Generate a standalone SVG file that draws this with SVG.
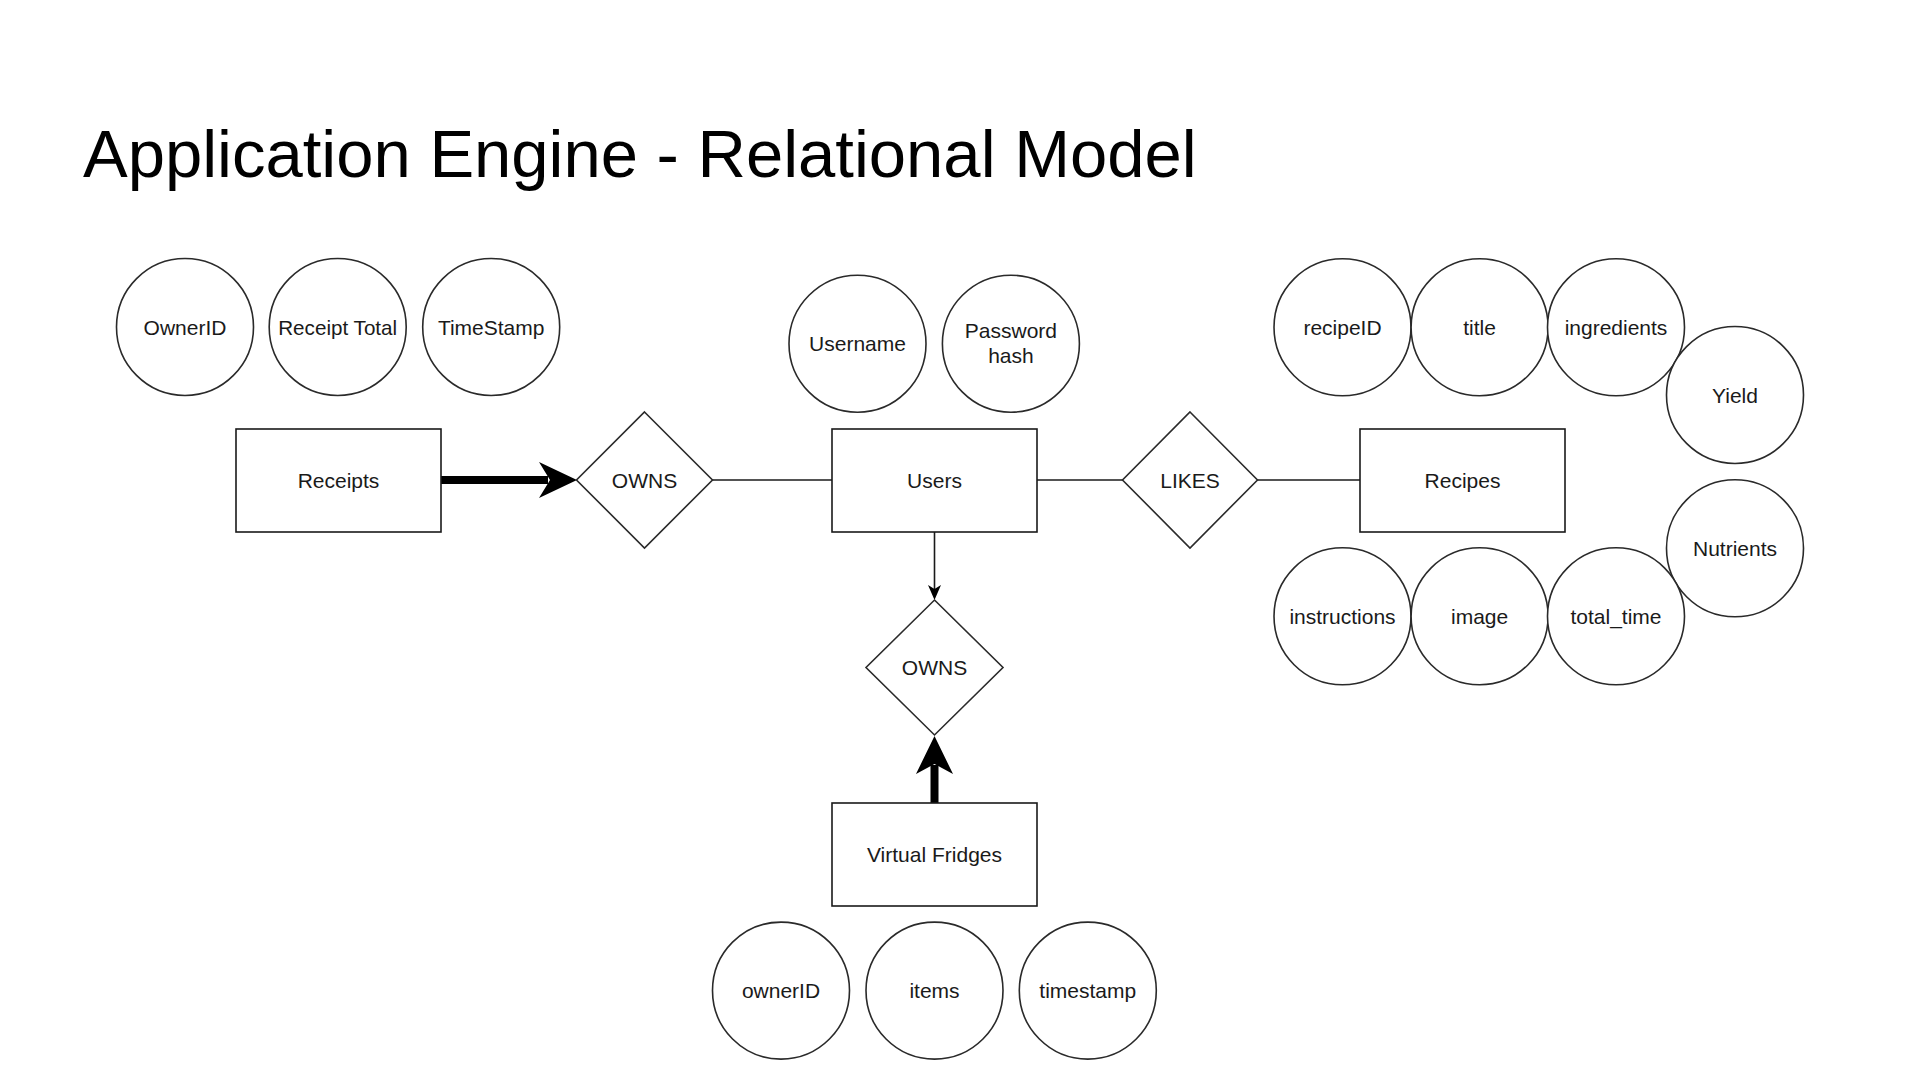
<svg xmlns="http://www.w3.org/2000/svg" width="1920" height="1080" viewBox="0 0 1920 1080">
<style>
.bg{fill:#ffffff}
.title{font-family:"Liberation Sans",Arial,sans-serif;font-size:67px;fill:#000}
.ent{fill:#fff;stroke:#1a1a1a;stroke-width:1.6}
.attr{fill:#fff;stroke:#2a2a2a;stroke-width:1.6}
.rel{fill:#fff;stroke:#2a2a2a;stroke-width:1.6}
.lbl{font-family:"Liberation Sans",Arial,sans-serif;font-size:21px;fill:#1a1a1a;text-anchor:middle}
.thin{stroke:#1a1a1a;stroke-width:1.6;fill:none}
.thick{stroke:#000;stroke-width:8;fill:none}
.head{fill:#000;stroke:none}
</style>
<rect class="bg" x="0" y="0" width="1920" height="1080"/>
<text class="title" x="83" y="177">Application Engine - Relational Model</text>

<g id="connectors">
  <line class="thick" x1="441" y1="480" x2="548" y2="480"/>
  <path class="head" d="M577,480 L539,462 L550,480 L539,498 Z"/>
  <line class="thin" x1="712" y1="480" x2="832" y2="480"/>
  <line class="thin" x1="1037" y1="480" x2="1123" y2="480"/>
  <line class="thin" x1="1257" y1="480" x2="1360" y2="480"/>
  <line class="thin" x1="934.5" y1="532" x2="934.5" y2="590"/>
  <path class="head" d="M934.5,600 L928,585 L934.5,589 L941,585 Z"/>
  <line class="thick" x1="934.5" y1="803" x2="934.5" y2="765"/>
  <path class="head" d="M934.5,736 L916,774 L934.5,764 L953,774 Z"/>
</g>

<g id="receipts"><rect class="ent" x="236" y="429" width="205" height="103"/><text class="lbl" x="338.5" y="488">Receipts</text></g>
<g id="users"><rect class="ent" x="832" y="429" width="205" height="103"/><text class="lbl" x="934.5" y="488">Users</text></g>
<g id="recipes"><rect class="ent" x="1360" y="429" width="205" height="103"/><text class="lbl" x="1462.5" y="488">Recipes</text></g>
<g id="virtual-fridges"><rect class="ent" x="832" y="803" width="205" height="103"/><text class="lbl" x="934.5" y="862">Virtual Fridges</text></g>

<g id="owns-receipts"><polygon class="rel" points="644.5,412 712.5,480 644.5,548 576.5,480"/><text class="lbl" x="644.5" y="488">OWNS</text></g>
<g id="likes"><polygon class="rel" points="1190,412 1257.5,480 1190,548 1122.5,480"/><text class="lbl" x="1190" y="488">LIKES</text></g>
<g id="owns-fridges"><polygon class="rel" points="934.5,600 1003,667.5 934.5,735 866,667.5"/><text class="lbl" x="934.5" y="675">OWNS</text></g>

<g id="attr-ownerid"><ellipse class="attr" cx="185" cy="327" rx="68.5" ry="68.5"/><text class="lbl" x="185" y="334.5">OwnerID</text></g>
<g id="attr-receipt-total"><ellipse class="attr" cx="337.7" cy="327" rx="68.5" ry="68.5"/><text class="lbl" x="337.7" y="334.5" textLength="119" lengthAdjust="spacingAndGlyphs">Receipt Total</text></g>
<g id="attr-timestamp-r"><ellipse class="attr" cx="491.2" cy="327" rx="68.5" ry="68.5"/><text class="lbl" x="491.2" y="334.5">TimeStamp</text></g>

<g id="attr-username"><ellipse class="attr" cx="857.5" cy="343.7" rx="68.5" ry="68.5"/><text class="lbl" x="857.5" y="351">Username</text></g>
<g id="attr-password"><ellipse class="attr" cx="1010.9" cy="343.7" rx="68.5" ry="68.5"/><text class="lbl" x="1010.9" y="338">Password</text><text class="lbl" x="1010.9" y="363">hash</text></g>

<g id="attr-recipeid"><ellipse class="attr" cx="1342.5" cy="327.3" rx="68.5" ry="68.5"/><text class="lbl" x="1342.5" y="334.8">recipeID</text></g>
<g id="attr-title"><ellipse class="attr" cx="1479.6" cy="327.3" rx="68.5" ry="68.5"/><text class="lbl" x="1479.6" y="334.8">title</text></g>
<g id="attr-ingredients"><ellipse class="attr" cx="1616" cy="327.3" rx="68.5" ry="68.5"/><text class="lbl" x="1616" y="334.8">ingredients</text></g>
<g id="attr-yield"><ellipse class="attr" cx="1735" cy="395" rx="68.5" ry="68.5"/><text class="lbl" x="1735" y="402.5">Yield</text></g>
<g id="attr-nutrients"><ellipse class="attr" cx="1735" cy="548.3" rx="68.5" ry="68.5"/><text class="lbl" x="1735" y="555.8">Nutrients</text></g>
<g id="attr-instructions"><ellipse class="attr" cx="1342.5" cy="616.3" rx="68.5" ry="68.5"/><text class="lbl" x="1342.5" y="623.8">instructions</text></g>
<g id="attr-image"><ellipse class="attr" cx="1479.6" cy="616.3" rx="68.5" ry="68.5"/><text class="lbl" x="1479.6" y="623.8">image</text></g>
<g id="attr-total-time"><ellipse class="attr" cx="1616" cy="616.3" rx="68.5" ry="68.5"/><text class="lbl" x="1616" y="623.8">total_time</text></g>

<g id="attr-ownerid-f"><ellipse class="attr" cx="781" cy="990.6" rx="68.5" ry="68.5"/><text class="lbl" x="781" y="998">ownerID</text></g>
<g id="attr-items"><ellipse class="attr" cx="934.5" cy="990.6" rx="68.5" ry="68.5"/><text class="lbl" x="934.5" y="998">items</text></g>
<g id="attr-timestamp-f"><ellipse class="attr" cx="1087.8" cy="990.6" rx="68.5" ry="68.5"/><text class="lbl" x="1087.8" y="998">timestamp</text></g>
</svg>
